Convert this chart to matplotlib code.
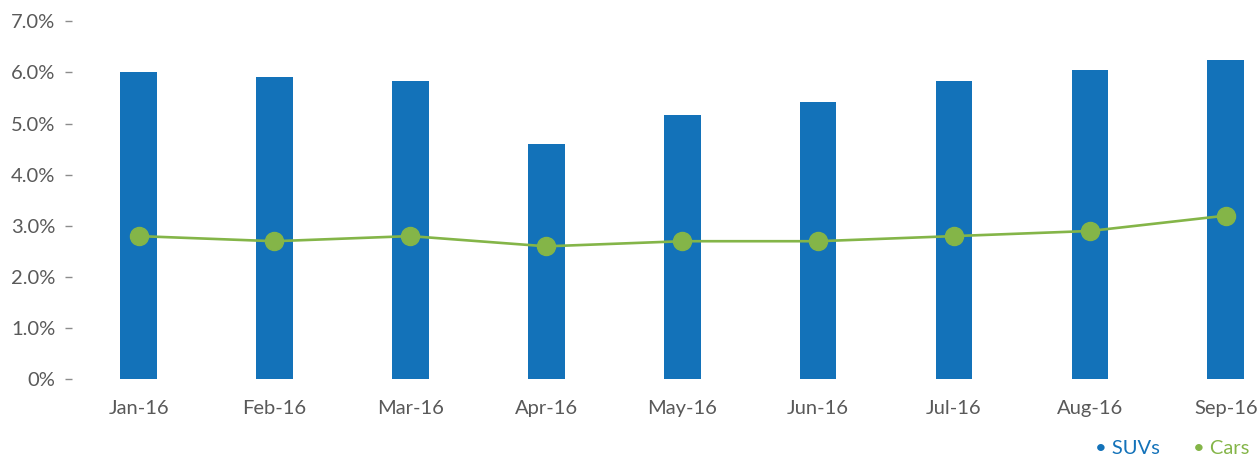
import matplotlib.pyplot as plt
import numpy as np

months = ["Jan-16", "Feb-16", "Mar-16", "Apr-16", "May-16", "Jun-16", "Jul-16", "Aug-16", "Sep-16"]
suvs = [6.0, 5.91, 5.83, 4.6, 5.17, 5.42, 5.83, 6.05, 6.24]
cars = [2.8, 2.7, 2.8, 2.6, 2.7, 2.7, 2.8, 2.9, 3.2]
yticks = [0, 1, 2, 3, 4, 5, 6, 7]
ytick_labels = ["0%", "1.0%", "2.0%", "3.0%", "4.0%", "5.0%", "6.0%", "7.0%"]

blue = "#1372b9"
green = "#84b548"
grey = "#595959"

plt.rcParams["font.family"] = ["Lato", "DejaVu Sans"]

fig = plt.figure(figsize=(12.6, 4.57), dpi=100)
ax = fig.add_axes([72 / 1260, 77.7 / 457, (1253 - 72) / 1260, (379.3 - 21.3) / 457])

x = np.arange(len(months))
ax.bar(x, suvs, width=0.27, color=blue, zorder=2)
ax.plot(x, cars, color=green, linewidth=1.9, marker="o", markersize=13, zorder=3)

ax.set_xlim(-0.49, 8.2)
ax.set_ylim(0, 7)
ax.set_xticks(x)
ax.set_xticklabels(months, fontsize=14.5, color=grey)
ax.set_yticks(yticks)
ax.set_yticklabels(ytick_labels, fontsize=14.5, color=grey)
ax.tick_params(axis="x", length=0, pad=15)
ax.tick_params(axis="y", length=5, width=1, color="#8c8c8c", pad=7)
for s in ax.spines.values():
    s.set_visible(False)

# legend as coloured text, bottom right
fig.text(1160 / 1260, 1 - 448 / 457, "\u2022 SUVs", color=blue, fontsize=14.5, ha="right", va="center")
fig.text(1249 / 1260, 1 - 448 / 457, "\u2022 Cars", color=green, fontsize=14.5, ha="right", va="center")

fig.savefig("out.png", dpi=100)
